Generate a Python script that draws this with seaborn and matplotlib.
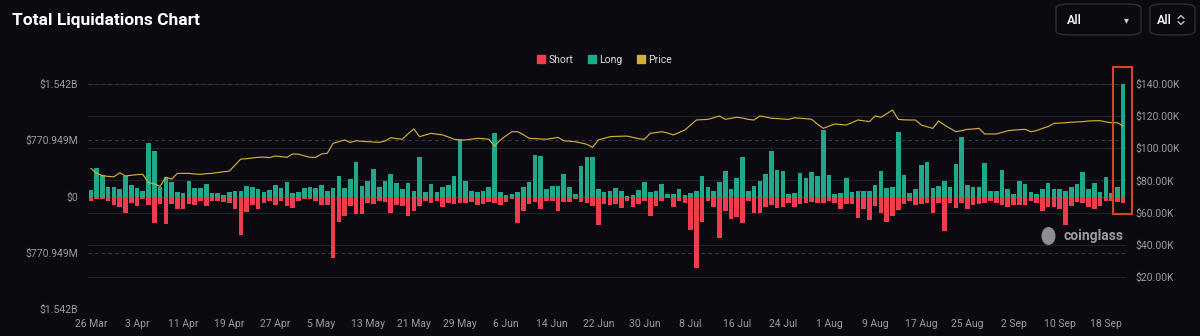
import numpy as np
import pandas as pd
import matplotlib
matplotlib.use("Agg")
import matplotlib.pyplot as plt
import matplotlib.transforms as mtransforms
from matplotlib.patches import Rectangle, FancyBboxPatch, Ellipse
from matplotlib.lines import Line2D
import seaborn as sns

# ---- data ---------------------------------------------------------------
start_date = "2025-03-26"

# long liquidations per day, $M
long_m = [
    91, 397, 296, 132, 132, 96, 278, 160, 119, 73,
    734, 629, 128, 264, 196, 68, 50, 219, 114, 114,
    173, 50, 50, 23, 68, 82, 82, 150, 137, 100,
    59, 91, 160, 114, 205, 46, 59, 114, 137, 114,
    160, 78, 119, 278, 114, 242, 470, 141, 219, 378,
    128, 219, 310, 187, 105, 187, 73, 547, 59, 169,
    59, 137, 164, 287, 789, 219, 82, 68, 82, 137,
    871, 68, 14, 36, 59, 128, 196, 575, 561, 105,
    150, 150, 310, 137, 36, 415, 547, 538, 105, 59,
    82, 119, 73, 5, 23, 91, 196, 59, 73, 169,
    36, 36, 105, 27, 50, 82, 278, 137, 82, 196,
    356, 105, 251, 538, 78, 141, 210, 310, 620, 365,
    356, 36, 50, 319, 251, 342, 278, 917, 301, 36,
    50, 255, 59, 82, 82, 82, 160, 347, 119, 137,
    880, 296, 46, 96, 433, 479, 114, 150, 210, 128,
    447, 812, 160, 137, 137, 456, 82, 82, 369, 105,
    36, 219, 173, 59, 36, 105, 182, 96, 96, 73,
    137, 173, 342, 96, 182, 68, 274, 46, 128, 1541.898,
]

# short liquidations per day, $M
short_m = [
    68, 41, 36, 68, 123, 146, 228, 87, 132, 41,
    114, 365, 100, 378, 100, 178, 178, 105, 123, 68,
    137, 59, 55, 78, 91, 178, 524, 214, 123, 175,
    91, 68, 114, 68, 137, 160, 68, 41, 32, 68,
    114, 123, 844, 351, 274, 137, 246, 246, 87, 105,
    55, 78, 223, 123, 137, 269, 192, 137, 55, 87,
    68, 146, 87, 109, 91, 87, 78, 114, 100, 78,
    87, 114, 78, 41, 365, 205, 105, 78, 178, 55,
    68, 192, 78, 78, 41, 78, 87, 137, 388, 109,
    123, 100, 160, 55, 146, 109, 55, 269, 137, 68,
    23, 146, 55, 87, 456, 976, 351, 68, 146, 570,
    192, 306, 283, 360, 68, 223, 228, 146, 114, 160,
    146, 87, 146, 100, 91, 78, 87, 91, 68, 87,
    169, 100, 109, 292, 178, 328, 132, 223, 351, 269,
    182, 100, 55, 114, 100, 87, 223, 87, 479, 87,
    160, 87, 169, 114, 100, 87, 68, 87, 114, 146,
    114, 114, 123, 68, 87, 205, 146, 146, 169, 397,
    132, 78, 87, 146, 169, 132, 68, 55, 78, 87,
]

# BTC price, $K
price_k = [
    87.5, 84.4, 83.0, 82.5, 82.3, 84.8, 82.8, 83.2, 83.6, 83.8,
    78.6, 77.9, 76.3, 82.0, 80.8, 84.4, 84.4, 84.4, 84.0, 83.8,
    84.2, 84.4, 84.9, 85.4, 85.8, 89.6, 93.3, 93.5, 94.0, 94.4,
    94.5, 94.2, 95.2, 94.8, 94.4, 96.5, 96.3, 95.3, 94.4, 94.4,
    96.5, 96.9, 103.1, 104.1, 105.2, 103.6, 104.7, 104.3, 104.1, 103.9,
    103.7, 104.5, 106.6, 106.0, 105.6, 109.0, 112.0, 107.2, 108.3, 109.3,
    108.8, 108.3, 107.0, 105.6, 105.2, 105.2, 105.7, 106.2, 106.0, 105.6,
    101.4, 105.2, 107.8, 110.3, 110.3, 108.5, 106.2, 106.0, 105.8, 105.6,
    106.2, 106.8, 104.7, 104.4, 104.1, 103.3, 102.5, 100.6, 105.2, 106.2,
    107.2, 107.4, 107.5, 107.6, 106.8, 106.0, 105.6, 109.3, 109.8, 110.3,
    109.5, 108.3, 109.8, 111.4, 114.5, 117.6, 117.8, 118.0, 119.0, 120.1,
    118.0, 118.6, 119.3, 118.8, 118.0, 117.6, 120.1, 119.5, 118.7, 118.5,
    118.2, 118.0, 119.0, 118.7, 118.4, 118.0, 115.0, 112.4, 113.8, 115.1,
    114.8, 114.5, 116.0, 117.6, 117.1, 116.6, 120.1, 119.3, 121.5, 123.8,
    118.0, 117.7, 117.6, 117.6, 114.5, 113.4, 112.4, 117.0, 114.5, 112.4,
    110.3, 111.0, 111.8, 112.0, 112.4, 108.9, 108.9, 108.9, 109.9, 110.9,
    111.3, 111.6, 111.8, 110.3, 111.0, 112.4, 113.5, 115.5, 115.7, 115.9,
    116.2, 116.4, 116.6, 117.0, 117.1, 117.2, 116.4, 115.9, 115.9, 113.9,
]

price_ticks_k = [20, 40, 60, 80, 100, 120, 140]
date_tick_step = 8

# ---- style --------------------------------------------------------------
BG = "#0a0a10"
LONG = "#20a88a"
SHORT = "#f03d4d"
PRICE = "#d4ad3a"
TICK = "#9b9ba3"
W, H = 1200, 336

sns.set_theme(style="dark")
plt.rcParams["font.family"] = ["Roboto", "DejaVu Sans"]
plt.rcParams["axes.facecolor"] = BG
plt.rcParams["figure.facecolor"] = BG

n = len(long_m)
days = np.arange(n)
dates = pd.date_range(start_date, periods=n, freq="D")
lmax = max(long_m)

df = pd.DataFrame({
    "day": np.r_[days, days],
    "value": np.r_[np.array(long_m, float), -np.array(short_m, float)],
    "side": ["Long"] * n + ["Short"] * n,
})

fig = plt.figure(figsize=(W / 100, H / 100), dpi=100, facecolor=BG)


def fx(x):
    return x / W


def fy(y):
    return 1 - y / H


ax = fig.add_axes([fx(88), fy(309), fx(1038), 225 / H])
ax.set_facecolor(BG)

sns.barplot(data=df, x="day", y="value", hue="side",
            palette={"Long": LONG, "Short": SHORT}, dodge=False,
            width=0.8, saturation=1, errorbar=None, legend=False,
            linewidth=0, ax=ax, zorder=3)

ax.set_xlim(-0.5, n - 0.5)
ax.set_ylim(-lmax, lmax)
ax.set_xlabel("")
ax.set_ylabel("")

left_ticks = [-lmax, -lmax / 2, 0, lmax / 2, lmax]


def money_label(v):
    v = abs(v)
    if v == 0:
        return "$0"
    if v >= 1000:
        return f"${v / 1000:.3f}B"
    return f"${v:.3f}M"


ax.set_yticks(left_ticks)
ax.set_yticklabels([money_label(v) for v in left_ticks])
tick_pos = days[::date_tick_step]
ax.set_xticks(tick_pos)
ax.set_xticklabels([f"{d.day} {d.strftime('%b')}" for d in dates[::date_tick_step]])
ax.tick_params(axis="both", length=0, colors=TICK, labelsize=7.5)
ax.tick_params(axis="y", pad=7)
ax.tick_params(axis="x", pad=7)
ax.grid(False)
for v in left_ticks:
    ax.axhline(v, color="#3a3a44", lw=0.8, ls=(0, (3, 3)), zorder=1)
ax.set_frame_on(False)

# price on the secondary axis
ax2 = ax.twinx()
sns.lineplot(x=days, y=price_k, ax=ax2, color=PRICE, lw=0.85)
ax2.set_ylim(0, 140)
ax2.set_yticks(price_ticks_k)
ax2.set_yticklabels([f"${v:.2f}K" for v in price_ticks_k])
ax2.tick_params(axis="y", length=0, colors=TICK, labelsize=7.5, pad=7)
ax2.tick_params(axis="x", length=0)
ax2.set_ylabel("")
ax2.grid(False)
ax2.set_frame_on(False)

# faint price gridlines drawn beneath the bars
blend = mtransforms.blended_transform_factory(ax.transAxes, ax2.transData)
for v in price_ticks_k:
    ax.add_line(Line2D([0, 1], [v, v], transform=blend, color="#22222a",
                       lw=0.8, zorder=0.5))

# ---- title, legend, controls --------------------------------------------
fig.text(fx(12), fy(20), "Total Liquidations Chart", color="white",
         fontsize=12.5, fontweight="bold", va="center", ha="left",
         family=["Roboto", "DejaVu Sans"])

handles = [
    Line2D([], [], marker="s", ls="", color=SHORT, markersize=6, label="Short"),
    Line2D([], [], marker="s", ls="", color=LONG, markersize=6, label="Long"),
    Line2D([], [], marker="s", ls="", color=PRICE, markersize=6, label="Price"),
]
fig.legend(handles=handles, loc="center", bbox_to_anchor=(fx(604), fy(60)),
           ncol=3, frameon=False, labelcolor="#dcdce0", fontsize=7.5,
           handletextpad=0.2, columnspacing=1.3, handlelength=1.0)

for x0, x1 in [(1056, 1141), (1150, 1195)]:
    fig.add_artist(FancyBboxPatch((fx(x0), fy(35)), fx(x1 - x0), 31 / H,
                                  boxstyle="round,pad=0,rounding_size=0.012",
                                  transform=fig.transFigure, fc=BG,
                                  ec="#2e2e36", lw=1.0))
fig.text(fx(1067), fy(20), "All", color="white", fontsize=9,
         fontweight="medium", va="center", ha="left")
fig.text(fx(1157), fy(20), "All", color="white", fontsize=9,
         fontweight="medium", va="center", ha="left")
fig.text(fx(1126), fy(20), "▾", color="#cfcfd4", fontsize=7,
         va="center", ha="center", family=["DejaVu Sans"])

# up/down chevrons of the second selector
for pts in ([(1178, 18.5), (1181, 15.5), (1184, 18.5)],
            [(1178, 21.5), (1181, 24.5), (1184, 21.5)]):
    fig.add_artist(Line2D([fx(p[0]) for p in pts], [fy(p[1]) for p in pts],
                          color="#cfcfd4", lw=0.9, solid_capstyle="round",
                          transform=fig.transFigure))

# highlight box round the latest day
fig.add_artist(Rectangle((fx(1113), fy(214)), fx(19), 147 / H,
                         transform=fig.transFigure, fill=False,
                         ec="#d9412b", lw=1.5))

# watermark
fig.add_artist(Ellipse((fx(1048.5), fy(236)), fx(14), 18 / H,
                       transform=fig.transFigure, fc="#8e8e92", ec="none"))
fig.text(fx(1063), fy(236), "coinglass", color="#9c9ca0", fontsize=10,
         fontweight="bold", va="center", ha="left")

fig.savefig("out.png", dpi=100, facecolor=BG)
